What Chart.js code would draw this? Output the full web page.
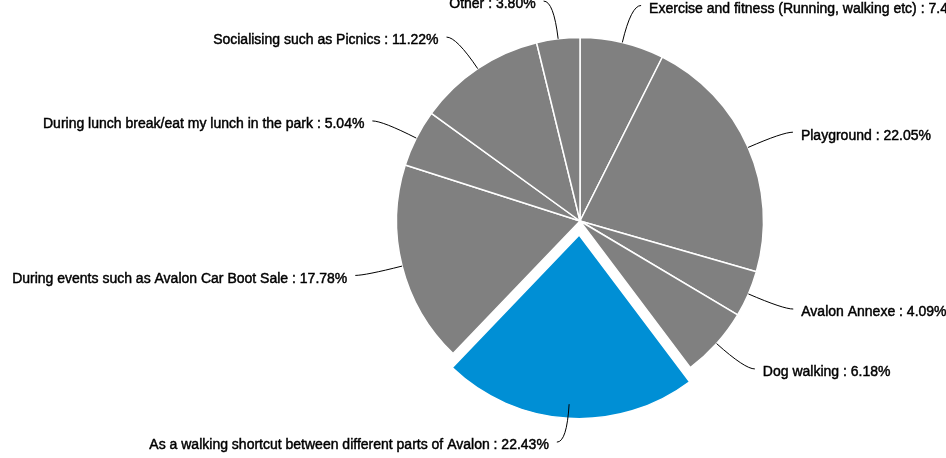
<!DOCTYPE html>
<html>
<head>
<meta charset="utf-8">
<script src="https://cdn.jsdelivr.net/npm/chart.js@4.4.1/dist/chart.umd.min.js"></script>
<style>
  html, body { margin: 0; padding: 0; background: #ffffff; }
  #wrap { width: 946px; height: 458px; }
</style>
</head>
<body>
<div id="wrap"><canvas id="c" width="946" height="458"></canvas></div>
<script>
const categories = [
  "Exercise and fitness (Running, walking etc)",
  "Playground",
  "Avalon Annexe",
  "Dog walking",
  "As a walking shortcut between different parts of Avalon",
  "During events such as Avalon Car Boot Sale",
  "During lunch break/eat my lunch in the park",
  "Socialising such as Picnics",
  "Other"
];
const values = [7.41, 22.05, 4.09, 6.18, 22.43, 17.78, 5.04, 11.22, 3.80];
const highlighted = "As a walking shortcut between different parts of Avalon";

const GRAY = "#808080";
const BLUE = "#008fd5";

const leaderLabels = {
  id: "leaderLabels",
  afterDatasetsDraw(chart) {
    const ctx = chart.ctx;
    const meta = chart.getDatasetMeta(0);
    ctx.save();
    ctx.font = "14px 'Liberation Sans', Arial, sans-serif";
    ctx.fillStyle = "#000000";
    ctx.strokeStyle = "#000000";
    ctx.lineWidth = 1;
    ctx.textBaseline = "middle";
    meta.data.forEach((arc, i) => {
      const p = arc.getProps(["x", "y", "startAngle", "endAngle", "outerRadius"], true);
      const a = (p.startAngle + p.endAngle) / 2;
      const cos = Math.cos(a), sin = Math.sin(a);
      const right = cos >= 0;
      const x0 = p.x + cos * p.outerRadius;
      const y0 = p.y + sin * p.outerRadius;
      const cr = p.outerRadius + 38;
      const cx = p.x + cos * cr;
      const cy = p.y + sin * cr;
      const ex = cx + (right ? 10 : -10);
      const ey = cy;
      ctx.lineWidth = 1;
      ctx.beginPath();
      ctx.moveTo(x0, y0);
      ctx.quadraticCurveTo(cx, cy, ex, ey);
      ctx.stroke();
      const txt = categories[i] + " : " + values[i].toFixed(2) + "%";
      ctx.textAlign = right ? "left" : "right";
      const tx = ex + (right ? 8 : -8), ty = ey + 3.5;
      ctx.lineWidth = 0.45;
      ctx.strokeText(txt, tx, ty);
      ctx.fillText(txt, tx, ty);
    });
    ctx.restore();
  }
};

new Chart(document.getElementById("c"), {
  type: "pie",
  data: {
    labels: categories,
    datasets: [{
      data: values,
      backgroundColor: categories.map(c => c === highlighted ? BLUE : GRAY),
      borderColor: "#ffffff",
      borderWidth: 1.5,
      offset: categories.map(c => c === highlighted ? 56 : 0)
    }]
  },
  options: {
    responsive: false,
    animation: false,
    radius: 183.5,
    layout: { padding: { left: 214, right: 0, top: 0, bottom: 16 } },
    plugins: {
      legend: { display: false },
      tooltip: { enabled: false }
    }
  },
  plugins: [leaderLabels]
});
</script>
</body>
</html>
